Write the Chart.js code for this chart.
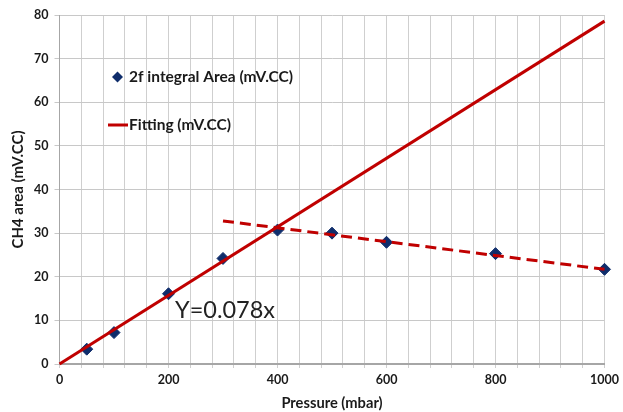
<!DOCTYPE html>
<html lang="en">
<head>
<meta charset="UTF-8">
<title>CH4 area vs pressure</title>
<style>
  body { margin: 0; background: #fff; }
  #wrap { width: 623px; height: 412px; }
</style>
</head>
<body>
<div id="wrap"><canvas id="ch4Chart" width="623" height="412"></canvas></div>

<script src="https://cdn.jsdelivr.net/npm/chart.js"></script>
<script>
// measured points
const pressure = [50, 100, 200, 300, 400, 500, 600, 800, 1000];
const area = [3.4, 7.2, 16.1, 24.2, 30.7, 30.0, 27.9, 25.3, 21.7];

// linear fit Y=0.078x
const fitX = [0, 1000];
const fitY = [0, 78.6];

// trend above saturation
const trendX = [300, 1000];
const trendY = [32.8, 21.7];

const xTicks = [0, 200, 400, 600, 800, 1000];

const FONT = 'Lato, "Open Sans", "Liberation Sans", sans-serif';
const RED = '#c00000';
const NAVY = '#0f2d6b';

const toPts = (xs, ys) => xs.map((x, i) => ({ x: x, y: ys[i] }));

// legend + equation label drawn inside the plot
const overlay = {
  id: 'overlay',
  afterDraw(chart) {
    const ctx = chart.ctx;
    ctx.save();
    ctx.textBaseline = 'middle';
    ctx.font = 'bold 15.5px ' + FONT;

    // diamond marker
    ctx.fillStyle = NAVY;
    ctx.beginPath();
    ctx.moveTo(117.5, 71.5); ctx.lineTo(123, 77); ctx.lineTo(117.5, 82.5); ctx.lineTo(112, 77);
    ctx.closePath();
    ctx.fill();
    ctx.fillStyle = '#1a1a1a';
    ctx.fillText('2f integral Area (mV.CC)', 129, 77);

    ctx.strokeStyle = RED;
    ctx.lineWidth = 3;
    ctx.beginPath();
    ctx.moveTo(108, 125); ctx.lineTo(128, 125);
    ctx.stroke();
    ctx.fillText('Fitting (mV.CC)', 129, 125);

    ctx.font = '23.5px ' + FONT;
    ctx.fillStyle = '#222';
    ctx.textBaseline = 'alphabetic';
    ctx.fillText('Y=0.078x', 175, 318);
    ctx.restore();
  }
};

new Chart(document.getElementById('ch4Chart'), {
  type: 'scatter',
  data: {
    datasets: [
      {
        label: 'Fitting (mV.CC)',
        data: toPts(fitX, fitY),
        showLine: true,
        borderColor: RED,
        borderWidth: 3,
        pointRadius: 0,
        clip: false
      },
      {
        label: 'Trend',
        data: toPts(trendX, trendY),
        showLine: true,
        borderColor: RED,
        borderWidth: 3,
        borderDash: [11, 6],
        pointRadius: 0,
        clip: false
      },
      {
        label: '2f integral Area (mV.CC)',
        data: toPts(pressure, area),
        pointStyle: 'rectRot',
        pointRadius: 6,
        backgroundColor: NAVY,
        borderColor: NAVY,
        borderWidth: 1,
        clip: false
      }
    ]
  },
  options: {
    responsive: false,
    animation: false,
    layout: { padding: { top: 15, right: 15, left: 9, bottom: 0 } },
    plugins: {
      legend: { display: false },
      tooltip: { enabled: false }
    },
    scales: {
      x: {
        type: 'linear',
        min: 0,
        max: 1000,
        afterBuildTicks: (scale) => {
          const t = [];
          for (let v = 0; v <= 1000; v += 40) t.push({ value: v });
          scale.ticks = t;
        },
        afterFit: (scale) => { scale.height = 48; },
        ticks: {
          autoSkip: false,
          maxRotation: 0,
          color: '#1a1a1a',
          font: { family: FONT, size: 12.5, weight: 'bold' },
          padding: 4,
          callback: (v) => xTicks.includes(v) ? String(v) : ''
        },
        grid: { color: '#cfcfcf', lineWidth: 1, tickLength: 4 },
        border: { color: '#a6a6a6', width: 2 },
        title: {
          display: true,
          text: 'Pressure (mbar)',
          color: '#1a1a1a',
          font: { family: FONT, size: 14.7, weight: 'bold' },
          padding: { top: 1, bottom: 0 }
        }
      },
      y: {
        min: 0,
        max: 80,
        afterFit: (scale) => { scale.width = 50.5; },
        ticks: {
          stepSize: 10,
          color: '#1a1a1a',
          font: { family: FONT, size: 12.5, weight: 'bold' },
          padding: 6
        },
        grid: { color: '#c8c8c8', lineWidth: 1, tickLength: 5 },
        border: { color: '#a6a6a6', width: 1 },
        title: {
          display: true,
          text: 'CH4 area (mV.CC)',
          color: '#1a1a1a',
          font: { family: FONT, size: 15, weight: 'bold' },
          padding: { top: 0, bottom: 4 }
        }
      }
    }
  },
  plugins: [overlay]
});
</script>
</body>
</html>
